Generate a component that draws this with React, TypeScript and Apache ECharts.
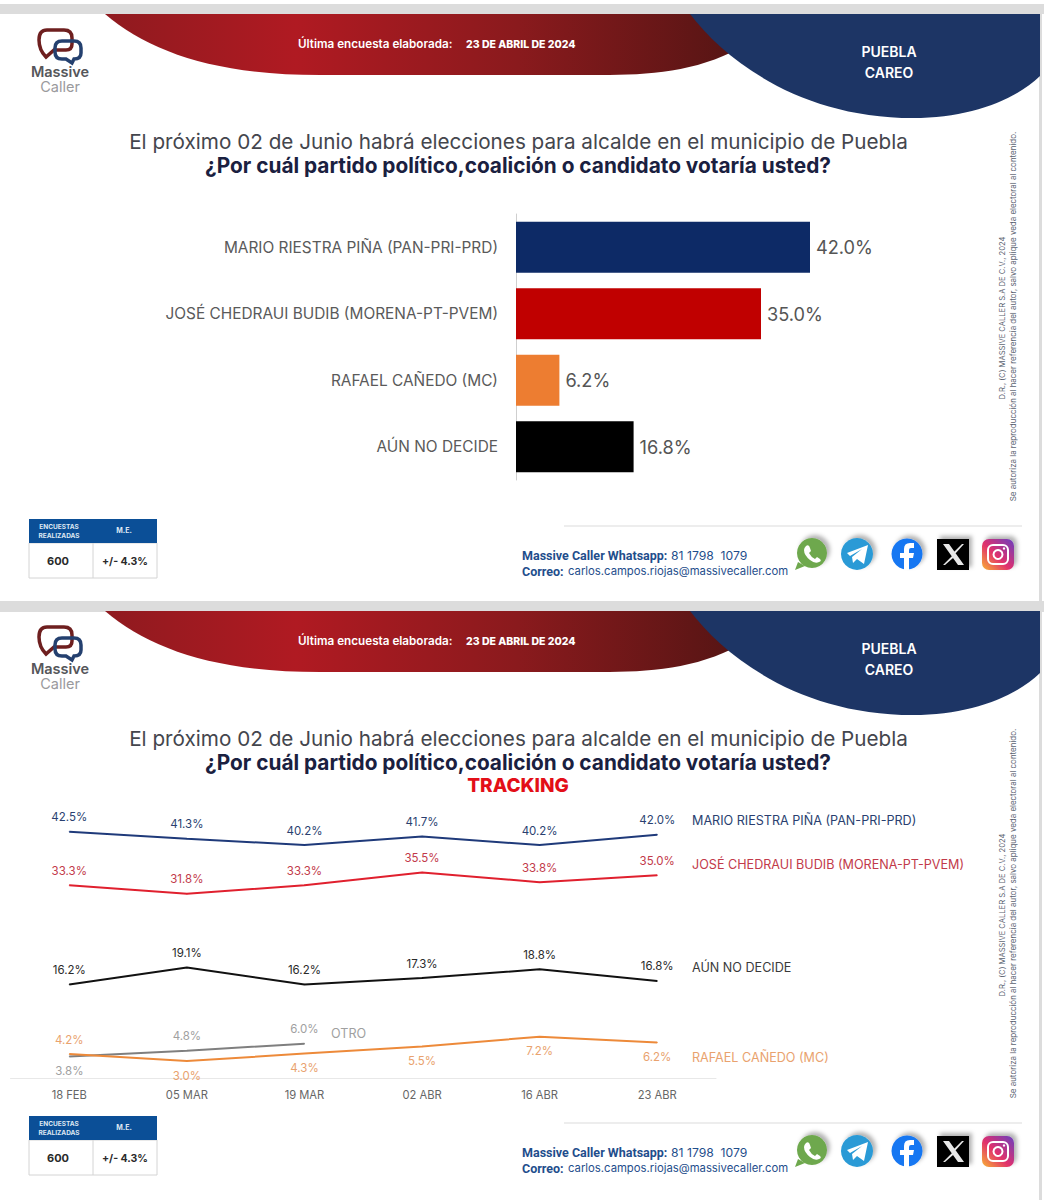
import React, { useEffect, useRef } from "react";
import * as echarts from "echarts";

// ---------- data ----------
const barCandidates = ["MARIO RIESTRA PIÑA (PAN-PRI-PRD)", "JOSÉ CHEDRAUI BUDIB (MORENA-PT-PVEM)", "RAFAEL CAÑEDO (MC)", "AÚN NO DECIDE"];
const barValues = [42.0, 35.0, 6.2, 16.8];
const barColors = ["#0d2a66", "#c00000", "#ed7d31", "#000000"];

const dates = ["18 FEB", "05 MAR", "19 MAR", "02 ABR", "16 ABR", "23 ABR"];
const riestra = [42.5, 41.3, 40.2, 41.7, 40.2, 42.0];
const chedraui = [33.3, 31.8, 33.3, 35.5, 33.8, 35.0];
const noDecide = [16.2, 19.1, 16.2, 17.3, 18.8, 16.8];
const canedo = [4.2, 3.0, 4.3, 5.5, 7.2, 6.2];
const otro = [3.8, 4.8, 6.0, null, null, null];

const pct = (v: number) => v.toFixed(1) + "%";
const FONT = "Inter, 'Noto Sans', sans-serif";
const COND = "'Liberation Sans Narrow', Roboto, 'Noto Sans', sans-serif";

// ---------- decorative shapes ----------
const shapes: Record<string, string> = {
  hdrRed: "M105 14 C150 52 215 75 320 75 L600 75 C650 75 695 72 740 48 L700 14 Z",
  hdrBlue: "M690 14 C725 60 800 118 913 118 C970 118 1015 100 1040 76 L1040 14 Z",
  bubbleRed: "M47 30 L64 30 Q72 30 72 38 L72 44 Q72 50 66 50 L54 50 L46 57 Q39 50 39 40 Q39 30 47 30 Z",
  bubbleBlue: "M62 41 L74 41 Q81 41 81 48 L81 53 Q81 59 74 59 L72 63 L66 59 L62 59 Q55 59 55 52 L55 48 Q55 41 62 41 Z",
  waTail: "M798 562 L795 570 L805 566 Z",
  waPhone: "M806 546 Q809 544 810 548 L811 551 L809 553 Q811 557 815 559 L817 557 L820 559 Q822 561 819 562 Q815 564 810 560 Q804 555 804 550 Q804 548 806 546 Z",
  tgPlane: "M847 553 L868 545 L864 564 L857 559 L853 563 L852 557 L862 549 L850 556 Z",
  fbF: "M904 570 L904 558 L900 558 L900 553 L904 553 L904 549 Q904 543 910 543 L914 543 L914 548 L911 548 Q909 548 909 550 L909 553 L914 553 L913 558 L909 558 L909 570 Z",
  xGlyph: "M943 544 L949 544 L964 565 L958 565 Z M962 544 L964 544 L955 554 L954 552 Z M952 556 L953 558 L945 565 L943 565 Z",
};
Object.entries(shapes).forEach(([n, d]) => {
  echarts.graphic.registerShape(n, (echarts.graphic as any).extendPath(d, {}));
});

const T = (text: string, x: number, y: number, fill: string, font: string, textAlign = "left", rotation = 0) => ({
  type: "text",
  x,
  y,
  rotation,
  silent: true,
  style: { text, x: 0, y: 0, fill, font, textAlign, textVerticalAlign: "middle" },
});

const grad = (stops: [number, string][]) =>
  new (echarts.graphic as any).LinearGradient(0, 0, 1, 0, stops.map(([offset, color]) => ({ offset, color })));

const Blue = "#1f4e8c";
const SHADOW = { shadowBlur: 4, shadowColor: "rgba(0,0,0,0.3)", shadowOffsetX: 3, shadowOffsetY: -3 };

function panel(dy: number) {
  const children: any[] = [
    { type: "hdrRed", silent: true, style: { fill: grad([[0, "#8f1a1f"], [0.3, "#b01a22"], [0.65, "#8a1a1d"], [1, "#551514"]]) } },
    { type: "hdrBlue", silent: true, style: { fill: "#1d3565" } },
    T("Última encuesta elaborada:", 298, 44, "#ffffff", "600 11.7px " + FONT),
    T("23 DE ABRIL DE 2024", 466, 44, "#ffffff", "800 10.5px " + FONT),
    T("PUEBLA", 889, 51, "#ffffff", "600 14px " + FONT, "center"),
    T("CAREO", 889, 72, "#ffffff", "600 14px " + FONT, "center"),
    // logo
    { type: "bubbleRed", silent: true, style: { fill: "none", stroke: "#6e1f1f", lineWidth: 3.5 } },
    { type: "bubbleBlue", silent: true, style: { fill: "none", stroke: "#24406f", lineWidth: 3.5 } },
    T("Massive", 60, 71, "#55565a", "600 14.5px " + FONT, "center"),
    T("Caller", 60, 86, "#9a9a9d", "400 14.5px " + FONT, "center"),
    // titles
    T("El próximo 02 de Junio habrá elecciones para alcalde en el municipio de Puebla", 518.5, 141, "#44464d", "400 20.7px " + FONT, "center"),
    T("¿Por cuál partido político,coalición o candidato votaría usted?", 518, 165, "#1a2040", "700 20.8px " + FONT, "center"),
    // rotated notes
    T("D.R., (C) MASSIVE CALLER S.A DE C.V., 2024", 1002, 318, "#5a6270", "400 7.6px " + FONT, "center", Math.PI / 2),
    T("Se autoriza la reproducción al hacer referencia del autor, salvo aplique veda electoral al contenido.", 1013, 316.5, "#5a6270", "400 7.95px " + FONT, "center", Math.PI / 2),
    // table
    { type: "rect", silent: true, shape: { x: 29, y: 543, width: 128, height: 35 }, style: { fill: "#ffffff", stroke: "#d4d4d4", lineWidth: 1 } },
    { type: "rect", silent: true, shape: { x: 29, y: 519, width: 128, height: 24 }, style: { fill: "#0b4f97" } },
    { type: "line", silent: true, shape: { x1: 93, y1: 543, x2: 93, y2: 578 }, style: { stroke: "#d4d4d4", lineWidth: 1 } },
    T("ENCUESTAS", 59, 527, "#dfe8f3", "700 6.5px " + FONT, "center"),
    T("REALIZADAS", 59, 536, "#dfe8f3", "700 6.5px " + FONT, "center"),
    T("M.E.", 124, 530, "#dfe8f3", "700 7px " + FONT, "center"),
    T("600", 58, 561, "#2a2a2a", "700 11px " + FONT, "center"),
    T("+/- 4.3%", 125, 561, "#2a2a2a", "700 10.5px " + FONT, "center"),
    // footer
    { type: "line", silent: true, shape: { x1: 564, y1: 526, x2: 1022, y2: 526 }, style: { stroke: "#dcdcdc", lineWidth: 1.2 } },
    T("Massive Caller Whatsapp:", 522, 555, Blue, "700 12.5px " + COND),
    T("81 1798  1079", 671, 555, Blue, "400 12.2px " + FONT),
    T("Correo:", 522, 571, Blue, "700 12.5px " + COND),
    T("carlos.campos.riojas@massivecaller.com", 568, 571, Blue, "400 11.3px " + FONT),
    // icons
    { type: "circle", silent: true, shape: { cx: 812, cy: 553, r: 15 }, style: { fill: "#6ea84d", ...SHADOW } },
    { type: "waTail", silent: true, style: { fill: "#6ea84d" } },
    { type: "waPhone", silent: true, style: { fill: "#ffffff" } },
    { type: "circle", silent: true, shape: { cx: 857, cy: 554, r: 16 }, style: { fill: "#2a9ad6", ...SHADOW } },
    { type: "tgPlane", silent: true, style: { fill: "#ffffff" } },
    { type: "circle", silent: true, shape: { cx: 907, cy: 554, r: 15.5 }, style: { fill: "#1877f2", ...SHADOW } },
    { type: "fbF", silent: true, style: { fill: "#ffffff" } },
    { type: "rect", silent: true, shape: { x: 937, y: 539, width: 32, height: 31 }, style: { fill: "#000000", ...SHADOW } },
    { type: "xGlyph", silent: true, style: { fill: "#e8e8e8" } },
    { type: "rect", silent: true, shape: { x: 982, y: 539, width: 32, height: 31, r: 7 }, style: { fill: new (echarts.graphic as any).LinearGradient(0, 1, 1, 0, [{ offset: 0, color: "#f9b233" }, { offset: 0.45, color: "#e1306c" }, { offset: 1, color: "#6a3fc0" }]), ...SHADOW } },
    { type: "rect", silent: true, shape: { x: 988, y: 545, width: 20, height: 19, r: 5 }, style: { fill: "none", stroke: "#ffffff", lineWidth: 2 } },
    { type: "circle", silent: true, shape: { cx: 998, cy: 554.5, r: 4.5 }, style: { fill: "none", stroke: "#ffffff", lineWidth: 2 } },
    { type: "circle", silent: true, shape: { cx: 1004, cy: 548.5, r: 1.2 }, style: { fill: "#ffffff" } },
  ];
  return { type: "group", x: 0, y: dy, silent: true, children };
}

export default function App() {
  const ref = useRef<HTMLDivElement>(null);
  useEffect(() => {
    document.body.style.margin = "0";
    const chart = echarts.init(ref.current!, null, { renderer: "svg" });
    const lineLabel = (color: string, position = "top") => ({
      show: true,
      position,
      distance: 8,
      color,
      fontSize: 11.5,
      fontFamily: FONT,
      formatter: (p: any) => pct(Array.isArray(p.value) ? p.value[1] : p.value),
    });
    const lineSeries = (name: string, data: any[], color: string, labelColor: string) => ({
      name,
      type: "line",
      xAxisIndex: 1,
      yAxisIndex: 1,
      data,
      symbol: "circle",
      symbolSize: 1,
      showSymbol: true,
      showAllSymbol: true,
      itemStyle: { color },
      connectNulls: false,
      silent: true,
      lineStyle: { color, width: 2 },
      label: lineLabel(labelColor),
    });
    const below = (v: any, color: string) => ({ value: v, label: lineLabel(color, "bottom") });
    chart.setOption({
      animation: false,
      backgroundColor: "#ffffff",
      tooltip: { show: false },
      grid: [
        { left: 516, top: 214, width: 420, height: 266 },
        { left: 10.5, top: 788.2, width: 705.5, height: 290.3 },
      ],
      xAxis: [
        { type: "value", gridIndex: 0, min: 0, max: 60, show: false },
        {
          type: "category",
          gridIndex: 1,
          data: dates,
          boundaryGap: true,
          axisLine: { lineStyle: { color: "#e8e8e8", width: 1 } },
          axisTick: { show: false },
          axisLabel: { color: "#666666", fontSize: 11.2, fontFamily: FONT, margin: 11 },
        },
      ],
      yAxis: [
        {
          type: "category",
          gridIndex: 0,
          data: barCandidates,
          inverse: true,
          axisLine: { lineStyle: { color: "#cfcfcf", width: 1 } },
          axisTick: { show: false },
          axisLabel: { color: "#5a5a5a", fontSize: 15.4, fontFamily: FONT, margin: 18 },
        },
        { type: "value", gridIndex: 1, min: 0, max: 50, show: false },
      ],
      series: [
        {
          type: "bar",
          xAxisIndex: 0,
          yAxisIndex: 0,
          silent: true,
          barWidth: 51,
          data: barValues.map((value, i) => ({ value, itemStyle: { color: barColors[i] } })),
          label: {
            show: true,
            position: "right",
            distance: 6,
            color: "#555555",
            fontSize: 18.2,
            fontFamily: FONT,
            formatter: (p: any) => pct(p.value),
          },
        },
        lineSeries("OTRO", otro.map((v, i) => (i === 0 ? below(v, "#a0a0a0") : v)), "#7f7f7f", "#a0a0a0"),
        lineSeries("RAFAEL CAÑEDO (MC)", canedo.map((v, i) => (i === 0 ? v : below(v, "#e9a26e"))), "#ed8a3a", "#e9a26e"),
        lineSeries("AÚN NO DECIDE", noDecide, "#111111", "#2a2a2a"),
        lineSeries("JOSÉ CHEDRAUI BUDIB (MORENA-PT-PVEM)", chedraui, "#e0202e", "#c23a4a"),
        lineSeries("MARIO RIESTRA PIÑA (PAN-PRI-PRD)", riestra, "#1f3a7a", "#2a3f70"),
      ],
      graphic: [
        // page chrome
        { type: "rect", silent: true, z: -10, shape: { x: 0, y: 4, width: 1044, height: 10 }, style: { fill: "#dcdcdc" } },
        { type: "rect", silent: true, z: -10, shape: { x: 0, y: 601, width: 1044, height: 11 }, style: { fill: "#dcdcdc" } },
        { type: "rect", silent: true, z: -10, shape: { x: 1039, y: 4, width: 3, height: 1196 }, style: { fill: "#dcdcdc" } },
        panel(0),
        panel(597),
        T("TRACKING", 518, 785, "#e30f18", "800 19px " + FONT, "center"),
        T(barCandidates[0], 692, 820, "#2a3f70", "400 12.6px " + FONT),
        T(barCandidates[1], 692, 864, "#c23a4a", "400 12.6px " + FONT),
        T(barCandidates[3], 692, 967, "#3a3a3a", "400 12.6px " + FONT),
        T(barCandidates[2], 692, 1057, "#e9a26e", "400 12.6px " + FONT),
        T("OTRO", 331, 1033, "#a0a0a0", "400 12.6px " + FONT),
      ],
    });
    return () => chart.dispose();
  }, []);
  return <div ref={ref} style={{ position: "absolute", left: 0, top: 0, width: 1044, height: 1200 }} />;
}
